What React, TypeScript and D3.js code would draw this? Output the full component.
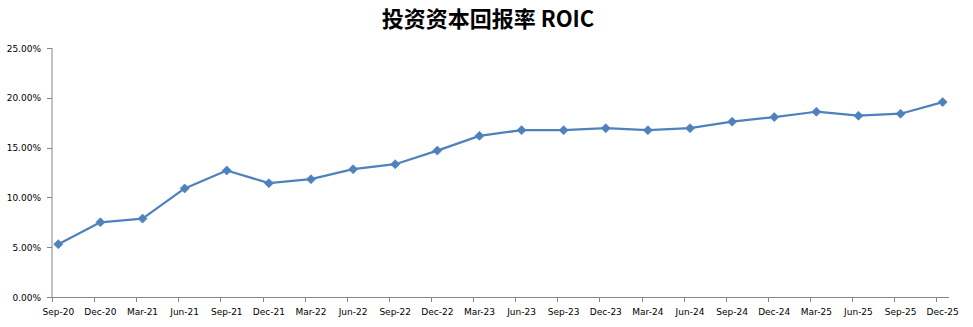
import React from "react";
import * as d3 from "d3";

const categories = [
  "Sep-20", "Dec-20", "Mar-21", "Jun-21", "Sep-21", "Dec-21", "Mar-22", "Jun-22",
  "Sep-22", "Dec-22", "Mar-23", "Jun-23", "Sep-23", "Dec-23", "Mar-24", "Jun-24",
  "Sep-24", "Dec-24", "Mar-25", "Jun-25", "Sep-25", "Dec-25",
];
const roic = [
  0.053, 0.075, 0.0787, 0.109, 0.127, 0.1143, 0.1183, 0.1283,
  0.1333, 0.147, 0.1618, 0.1675, 0.1675, 0.1695, 0.1675, 0.1695,
  0.176, 0.1806, 0.186, 0.182, 0.184, 0.1957,
];
const yTicks = [0, 0.05, 0.1, 0.15, 0.2, 0.25];
const title = "投资资本回报率 ROIC";

const W = 973;
const H = 327;
const axisColor = "#868686";
const lineColor = "#4F81BD";

export default function App() {
  const x = d3.scaleLinear().domain([-0.15, categories.length - 1 + 0.15]).range([52, 949]);
  const y = d3.scaleLinear().domain([0, 0.25]).range([297, 48]);
  const line = d3
    .line<number>()
    .x((_, i) => x(i))
    .y((d) => y(d));
  const fmt = d3.format(".2%");
  const diamond = (cx: number, cy: number, r: number) =>
    `M${cx},${cy - r}L${cx + r},${cy}L${cx},${cy + r}L${cx - r},${cy}Z`;

  return (
    <svg
      width={W}
      height={H}
      style={{ position: "absolute", left: 0, top: 0, background: "#fff" }}
      fontFamily="'DejaVu Sans', sans-serif"
    >
      <rect width={W} height={H} fill="#fff" />
      <text
        x={488}
        y={27}
        textAnchor="middle"
        fontFamily="'Noto Sans CJK SC', sans-serif"
        fontWeight="bold"
        fontSize={22}
        fill="#000"
      >
        {title}
      </text>
      {/* Y axis */}
      <line x1={x.range()[0]} x2={x.range()[0]} y1={y(0.25)} y2={y(0)} stroke={axisColor} strokeWidth={1} />
      {yTicks.map((t) => (
        <g key={t}>
          <line x1={x.range()[0] - 5} x2={x.range()[0]} y1={Math.round(y(t)) + 0.5} y2={Math.round(y(t)) + 0.5} stroke={axisColor} />
          <text x={41} y={y(t) + 3.5} textAnchor="end" fontSize={9} fill="#000">
            {fmt(t)}
          </text>
        </g>
      ))}
      {/* X axis */}
      <line x1={x.range()[0]} x2={x.range()[1]} y1={Math.round(y(0)) + 0.5} y2={Math.round(y(0)) + 0.5} stroke={axisColor} />
      {categories.map((c, i) => (
        <g key={c}>
          <line
            x1={Math.round(x(i - 0.15)) + 0.5}
            x2={Math.round(x(i - 0.15)) + 0.5}
            y1={y(0)}
            y2={y(0) + 5}
            stroke={axisColor}
          />
          <text x={x(i)} y={315} textAnchor="middle" fontSize={9} fill="#000">
            {c}
          </text>
        </g>
      ))}
      <path d={line(roic) || ""} fill="none" stroke={lineColor} strokeWidth={2.25} strokeLinejoin="round" />
      {roic.map((v, i) => (
        <path key={i} d={diamond(x(i), y(v), 4.5)} fill={lineColor} stroke={lineColor} strokeWidth={0.75} />
      ))}
    </svg>
  );
}
